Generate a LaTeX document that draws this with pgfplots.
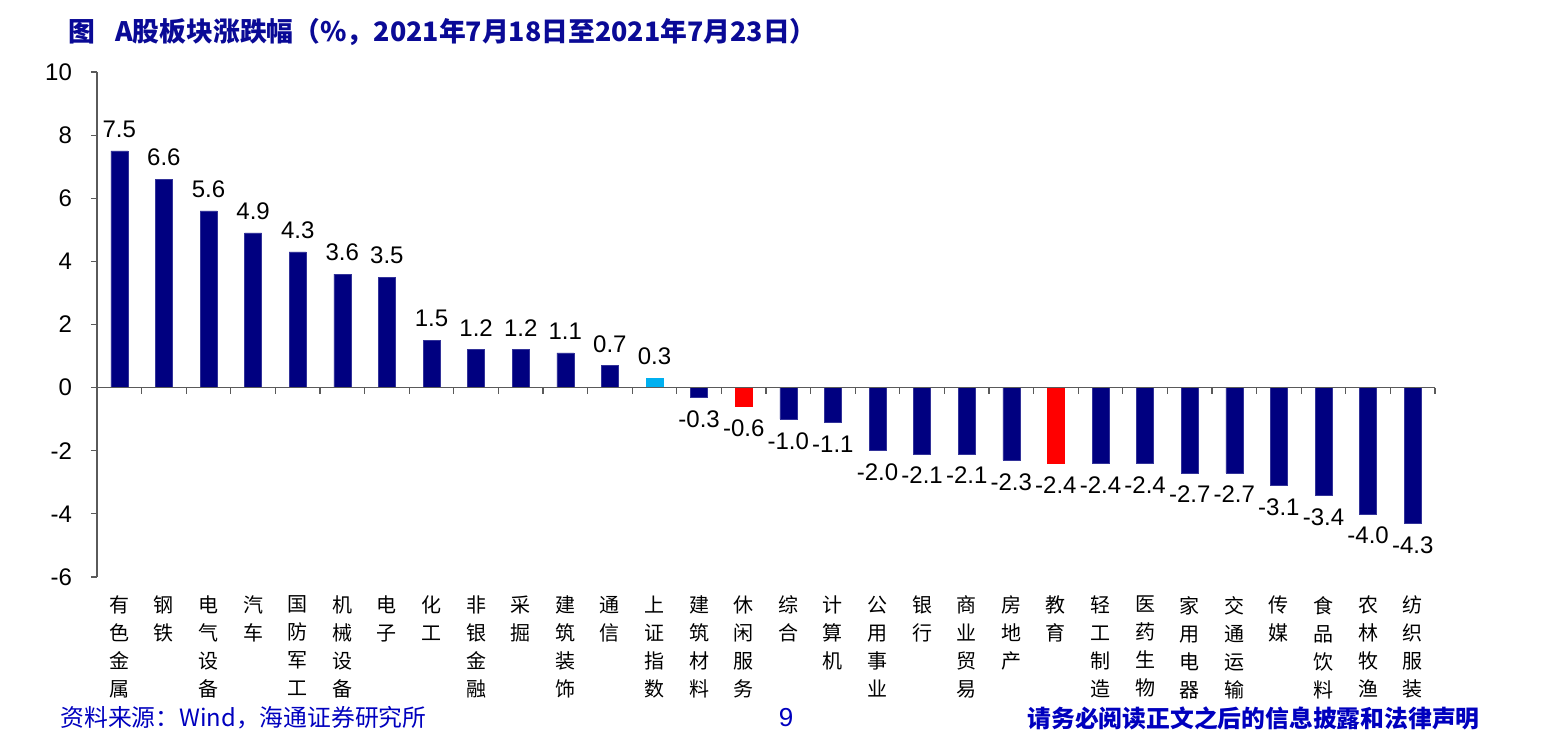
\documentclass[border=0pt]{standalone}
\usepackage{pgfplots}
\pgfplotsset{compat=1.18}
\usepackage{fontspec}
\setmainfont{Liberation Sans}
\newfontfamily\cjk{Noto Sans CJK SC}
\definecolor{navy}{RGB}{0,0,128}
\definecolor{lblue}{RGB}{0,176,240}
\definecolor{titleblue}{RGB}{10,10,150}
\definecolor{footblue}{RGB}{0,0,190}
\definecolor{axcol}{RGB}{90,90,90}
\begin{document}
\begin{tikzpicture}
\path[use as bounding box] (-48.5pt,-84.5pt) rectangle (732pt,288.5pt);
\begin{axis}[
  at={(0pt,0pt)}, anchor=south west,
  scale only axis, width=669pt, height=252.5pt,
  xmin=-0.5, xmax=29.5, ymin=-6, ymax=10,
  axis y line=left, axis x line=bottom,
  x axis line style={draw=none},
  y axis line style={-, draw=axcol, line width=0.6pt},
  ytick={-6,-4,...,10},
  ytick style={draw=axcol, line width=0.6pt},
  tick align=outside, major tick length=3pt,
  xtick={0,...,29}, xtick style={draw=none},
  xticklabels={{有\\色\\金\\属},{钢\\铁},{电\\气\\设\\备},{汽\\车},{国\\防\\军\\工},{机\\械\\设\\备},{电\\子},{化\\工},{非\\银\\金\\融},{采\\掘},{建\\筑\\装\\饰},{通\\信},{上\\证\\指\\数},{建\\筑\\材\\料},{休\\闲\\服\\务},{综\\合},{计\\算\\机},{公\\用\\事\\业},{银\\行},{商\\业\\贸\\易},{房\\地\\产},{教\\育},{轻\\工\\制\\造},{医\\药\\生\\物},{家\\用\\电\\器},{交\\通\\运\\输},{传\\媒},{食\\品\\饮\\料},{农\\林\\牧\\渔},{纺\\织\\服\\装}},
  xticklabel style={anchor=north, align=center, font=\cjk\fontsize{10}{14}\selectfont, yshift=-3pt},
  yticklabel style={font=\fontsize{12}{14}\selectfont, xshift=-6pt},
  /pgf/number format/assume math mode=true,
  ybar, bar width=8.5pt, bar shift=0pt,
  nodes near coords,
  nodes near coords style={font=\fontsize{12}{14}\selectfont, inner ysep=6.5pt, /pgf/number format/fixed, /pgf/number format/fixed zerofill, /pgf/number format/precision=1, /pgf/number format/assume math mode=true},
  clip=false,
]
\addplot[fill=navy, draw=navy!80!white, line width=0.3pt] coordinates {(0,7.5)(1,6.6)(2,5.6)(3,4.9)(4,4.3)(5,3.6)(6,3.5)(7,1.5)(8,1.2)(9,1.2)(10,1.1)(11,0.7)(13,-0.3)(15,-1.0)(16,-1.1)(17,-2.0)(18,-2.1)(19,-2.1)(20,-2.3)(22,-2.4)(23,-2.4)(24,-2.7)(25,-2.7)(26,-3.1)(27,-3.4)(28,-4.0)(29,-4.3)};
\addplot[fill=lblue, draw=lblue, line width=0.3pt] coordinates {(12,0.3)};
\addplot[fill=red, draw=red, line width=0.3pt] coordinates {(14,-0.6)(21,-2.4)};
\draw[axcol, line width=0.6pt] (axis cs:-0.5,0) -- (axis cs:29.5,0);
\pgfplotsinvokeforeach{0,...,29}{
  \draw[axcol, line width=0.6pt] (axis cs:#1+0.5,0) -- ++(0pt,-3pt);
}
\end{axis}
\node[anchor=west, text=titleblue, font=\cjk\bfseries\fontsize{13.4}{15}\selectfont, inner sep=0pt] at (-14.5pt,272.5pt) {图\hspace{0.75em}A股板块涨跌幅（\%，2021年7月18日至2021年7月23日）};
\node[anchor=west, text=footblue, font=\cjk\fontsize{11.9}{13}\selectfont, inner sep=0pt] at (-18.5pt,-70.5pt) {资料来源：Wind，海通证券研究所};
\node[text=footblue, font=\fontsize{13}{15}\selectfont, inner sep=0pt] at (344.5pt,-70.5pt) {9};
\node[anchor=east, text=footblue, font=\cjk\bfseries\fontsize{11.9}{13}\selectfont, inner sep=0pt] at (691.5pt,-70.5pt) {请务必阅读正文之后的信息披露和法律声明};
\end{tikzpicture}
\end{document}
